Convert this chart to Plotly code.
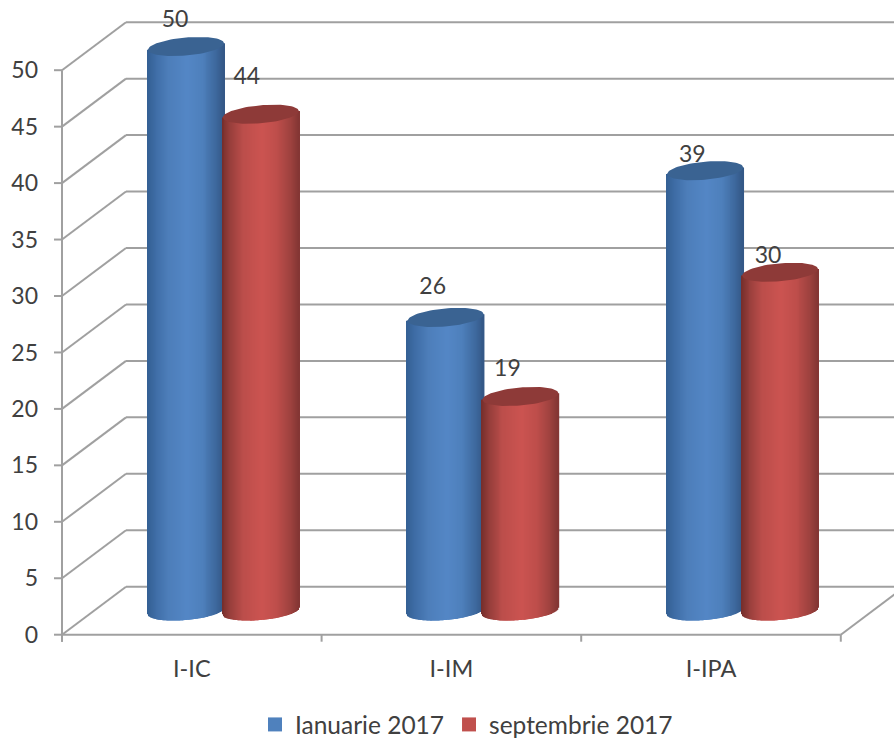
import numpy as np
import plotly.graph_objects as go

# ---- data -------------------------------------------------------------
categories = ["I-IC", "I-IM", "I-IPA"]
ianuarie = [50, 26, 39]
septembrie = [44, 19, 30]
series_names = ["Ianuarie 2017", "septembrie 2017"]
y_ticks = [0, 5, 10, 15, 20, 25, 30, 35, 40, 45, 50]

# ---- geometry / style ---------------------------------------------------
PX_X, PX_Y = 259.6, 11.29
W, H = 894, 747
ML, MB = 54, 95
x0 = -0.5 - 8 / PX_X
x1 = x0 + (W - ML) / PX_X
y1 = 634.7 / PX_Y
y0 = y1 - (H - MB) / PX_Y
DX, DY = 64 / PX_X, 48 / PX_Y
GRID = "#a0a0a0"
TXT = "#404040"
FONT = "Lato"

RAD = 38 / PX_X
GROUP_SHIFT = 0.122
SERIES_SHIFT = 0.144
FLOOR = 23.7 / PX_Y
EB = 9 / PX_Y
TILT = 3.2 / PX_Y
N = 80

STOPS_U = [-1.0, -0.8, -0.45, 0.05, 0.45, 0.8, 1.0]
BLUE_RAMP = [(52, 96, 148), (62, 108, 165), (77, 126, 186), (84, 135, 198), (78, 128, 188), (62, 105, 158), (52, 88, 135)]
RED_RAMP = [(118, 46, 44), (150, 62, 59), (188, 78, 75), (204, 84, 81), (190, 78, 75), (158, 66, 63), (132, 54, 52)]
BLUE_TOP, RED_TOP = "#3a6392", "#8e3a38"
LABEL_LIFT_A = [25, 29, 14.5]
LABEL_LIFT_B = [36, 26.5, 15.5]
LABEL_SHIFT_A = [-11, -13, -13]
LABEL_SHIFT_B = [-14, -13, -12]


def shade(u, ramp):
    return "rgb(%d,%d,%d)" % tuple(np.interp(u, STOPS_U, [c[i] for c in ramp]) for i in range(3))


def body(values, side, ramp, name):
    xs, tops, bases, cols = [], [], [], []
    us = np.linspace(-1, 1, N)
    for i, v in enumerate(values):
        cx = i + GROUP_SHIFT + side * SERIES_SHIFT
        for u in us:
            base = FLOOR + TILT * u - EB * np.sqrt(1 - u * u)
            xs.append(cx + RAD * u)
            bases.append(base)
            tops.append(FLOOR + v + TILT * u - base)
            cols.append(shade(u, ramp))
    return go.Bar(x=xs, y=tops, base=bases, width=1.5 / PX_X,
                  marker=dict(color=cols, line=dict(width=0)),
                  showlegend=False, hoverinfo="skip", name=name)


def caps(values, side, color, name):
    t = np.linspace(0, 2 * np.pi, 80)
    xs, ys = [], []
    for i, v in enumerate(values):
        cx = i + GROUP_SHIFT + side * SERIES_SHIFT
        xs += list(cx + RAD * np.cos(t)) + [None]
        ys += list(FLOOR + v + TILT * np.cos(t) + EB * np.sin(t)) + [None]
    return go.Scatter(x=xs, y=ys, mode="lines", fill="toself", fillcolor=color,
                      line=dict(width=0, color=color), showlegend=False,
                      hoverinfo="skip", name=name)


def labels(values, side, shifts, lifts):
    xs = [i + GROUP_SHIFT + side * SERIES_SHIFT + s / PX_X for i, s in enumerate(shifts)]
    ys = [FLOOR + v + l / PX_Y for v, l in zip(values, lifts)]
    return go.Scatter(x=xs, y=ys, mode="text", text=[str(v) for v in values],
                      textposition="middle center", showlegend=False, hoverinfo="skip",
                      textfont=dict(family=FONT, size=23, color=TXT))


fig = go.Figure()
fig.add_trace(body(ianuarie, -1, BLUE_RAMP, series_names[0]))
fig.add_trace(body(septembrie, 1, RED_RAMP, series_names[1]))
fig.add_trace(caps(ianuarie, -1, BLUE_TOP, series_names[0]))
fig.add_trace(caps(septembrie, 1, RED_TOP, series_names[1]))
fig.add_trace(labels(ianuarie, -1, LABEL_SHIFT_A, LABEL_LIFT_A))
fig.add_trace(labels(septembrie, 1, LABEL_SHIFT_B, LABEL_LIFT_B))
for nm, col in zip(series_names, ["#4f81bd", "#c0504d"]):
    fig.add_trace(go.Scatter(x=[None], y=[None], mode="markers", name=nm,
                             marker=dict(symbol="square", size=14, color=col)))

shapes = []


def seg(xa, ya, xb, yb):
    shapes.append(dict(type="line", xref="x", yref="y", x0=xa, y0=ya, x1=xb, y1=yb,
                       layer="below", line=dict(color=GRID, width=2)))


for v in y_ticks:
    seg(-0.5, v, -0.5 + DX, v + DY)
    seg(-0.5 + DX, v + DY, x1, v + DY)
    seg(x0, v, -0.5, v)
seg(-0.5, 0 - 7 / PX_Y, -0.5, y_ticks[-1])
seg(-0.5, 0, len(categories) - 0.5, 0)
seg(len(categories) - 0.5, 0, len(categories) - 0.5 + DX, DY)
for k in range(len(categories) + 1):
    seg(k - 0.5, 0, k - 0.5, -7 / PX_Y)

fig.update_layout(
    width=W, height=H, autosize=False,
    margin=dict(l=ML, r=0, t=0, b=MB, pad=0),
    paper_bgcolor="white", plot_bgcolor="white",
    barmode="overlay", shapes=shapes,
    font=dict(family=FONT, size=22, color=TXT),
    xaxis=dict(range=[x0, x1], tickmode="array", tickvals=list(range(len(categories))),
               ticktext=categories, showgrid=False, zeroline=False, showline=False,
               ticks="", ticklabelstandoff=0, tickfont=dict(size=23.5, family=FONT, color=TXT)),
    yaxis=dict(range=[y0, y1], tickmode="array", tickvals=y_ticks, showgrid=False,
               zeroline=False, showline=False, ticks="", ticklabelstandoff=15,
               tickfont=dict(size=23, family=FONT, color=TXT)),
    legend=dict(orientation="h", x=255 / W, xref="container", xanchor="left",
                y=0, yref="container", yanchor="bottom",
                font=dict(size=24.5, family=FONT, color=TXT),
                itemwidth=30, bgcolor="rgba(0,0,0,0)"),
)
fig.write_html("out.html", config=dict(displayModeBar=False),
               post_script="document.body.style.margin='0';document.body.style.overflow='hidden';")
